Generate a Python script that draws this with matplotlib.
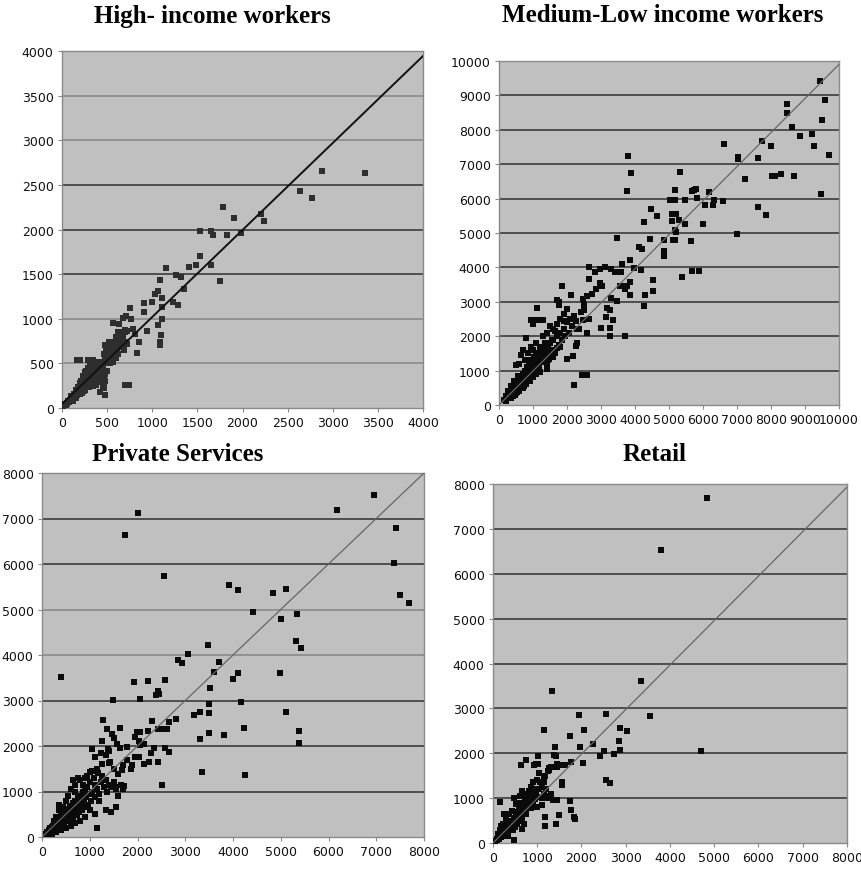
import matplotlib
matplotlib.use("Agg")
import matplotlib.pyplot as plt

# ---- High-income workers ----
high_x = [3362, 2886, 2642, 2775, 2203, 2236, 1779, 1908, 1827, 1985, 1528, 1650, 1675, 1528, 1653,
          1480, 1402, 1749, 1155, 1266, 1317, 1347, 1085, 1026, 1066, 1111, 1225, 1284, 1000, 911,
          911, 1103, 1107, 1059, 1096, 1089, 1089, 941, 849, 830, 753, 764, 672, 705, 561, 631, 790,
          808, 697, 716, 690, 701, 742, 170, 199, 421, 476, 458,
          15, 25, 35, 45, 55, 60, 70, 80, 90, 95, 105, 110, 120, 125, 135, 140, 150, 155, 165, 170,
          180, 185, 195, 200, 210, 215, 225, 230, 240, 245, 255, 260, 270, 275, 285, 290, 300, 305,
          315, 320, 330, 335, 345, 350, 360, 365, 375, 380, 390, 395, 405, 410, 420, 425, 440, 450,
          435, 260, 280, 300, 330, 250, 310, 350, 400, 230, 200, 180, 380, 420, 460, 470, 440, 160,
          130, 100, 340, 360, 270, 480, 500, 470, 120, 160, 200, 240, 280, 320, 360, 400,
          470, 490, 500, 520, 480, 520, 540, 560, 580, 600, 620, 640, 650, 660, 680, 700, 550, 570,
          590, 610, 500, 530, 560, 600, 520, 480, 640, 680, 540, 460, 500, 700, 720, 620, 580, 660,
          210, 230, 250, 270, 290, 310, 330, 350, 370, 390, 410, 430, 450, 460, 480, 380, 340, 300,
          260, 220, 390, 360, 330, 300, 270, 240, 320, 290, 420, 400,
          530, 560, 600, 620, 650, 580, 600, 640, 680, 620]
high_y = [2634, 2660, 2429, 2351, 2172, 2093, 2250, 2134, 1933, 1963, 1978, 1978, 1933, 1705, 1597,
          1597, 1578, 1422, 1567, 1485, 1463, 1336, 1429, 1276, 1313, 1231, 1183, 1149, 1183, 1175,
          1075, 1130, 1000, 925, 821, 739, 701, 858, 735, 619, 1119, 1000, 1011, 1030, 955, 944, 888,
          832, 851, 720, 646, 261, 261, 534, 534, 179, 142, 235,
          20, 30, 40, 35, 60, 50, 75, 70, 95, 80, 110, 95, 130, 110, 140, 120, 160, 140, 175, 150,
          190, 165, 205, 180, 220, 195, 240, 210, 255, 230, 270, 245, 290, 260, 300, 280, 320, 295,
          340, 310, 355, 325, 370, 340, 390, 355, 400, 370, 420, 380, 430, 395, 440, 410, 380, 400,
          460, 380, 420, 450, 480, 350, 520, 500, 470, 330, 280, 230, 300, 330, 270, 220, 290, 200,
          160, 130, 540, 480, 350, 380, 420, 350, 80, 110, 160, 190, 230, 270, 310, 340,
          600, 650, 690, 720, 560, 600, 650, 700, 690, 720, 750, 780, 820, 850, 800, 740, 560, 520,
          600, 640, 540, 500, 620, 560, 740, 710, 700, 680, 590, 500, 600, 870, 860, 600, 610, 760,
          300, 360, 400, 410, 450, 470, 430, 450, 470, 500, 480, 420, 440, 330, 300, 260, 250, 230,
          200, 170, 350, 420, 390, 380, 330, 300, 520, 540, 520, 520,
          650, 680, 650, 700, 720, 740, 800, 830, 850, 850]
high_fit_x = [0, 4000]
high_fit_y = [45, 3944]

# ---- Medium-Low income workers ----
med_x = [9451, 9579, 8482, 8482, 9510, 8629, 8864, 9216, 9265, 9706, 7738, 8002, 7042, 7042, 7620,
         6631, 7248, 8041, 8110, 8296, 8688, 7620, 7845, 9481, 7013, 6601, 6327, 6297, 6190, 6073,
         6004, 5808, 5730, 5828, 5671, 5485, 5338, 5171, 5191, 5465, 5024, 5093, 5220, 5093, 5299,
         5171, 5220, 5122, 5191, 4858, 4858, 4858, 5642, 5397, 5662, 5887, 4466, 4642, 4270, 4446,
         4103, 4201, 3457, 3780, 3878, 3761, 3849, 3976, 4172, 3604, 3594, 3408, 3301, 3105, 2968,
         2821, 2644, 3555, 3653, 3770, 3849, 3849, 3692, 4535, 4515, 4299, 4260, 3477, 3291, 3271,
         3271, 3271, 3340, 3144, 3163, 2997, 2958, 3017, 2840, 2733, 2576, 2654, 3692, 2586, 2654,
         2478, 2507, 2458, 2341, 2282, 2253, 2164, 2008, 2204, 2449, 2586, 1861, 1704, 1773, 2106,
         1117, 950, 1048, 1166, 1293, 1008,
         150, 200, 220, 250, 280, 300, 320, 350, 380, 400, 420, 450, 460, 480, 500, 520, 540, 550,
         570, 580, 600, 620, 640, 650, 670, 680, 700, 720, 740, 750, 770, 780, 800, 820, 830, 850,
         870, 880, 900, 920, 950, 960, 980, 1000, 1020, 1040, 1060, 1080, 1100, 1120, 1150, 1180,
         1200, 1220, 1250, 1280, 1300, 1320, 1350, 1380, 1400, 1420, 1450, 1480, 1500, 1550, 1600,
         1650, 1700, 1750, 1800, 1850, 1900, 1950, 2000, 2050, 2100, 2150, 2200, 2250, 1600, 1400,
         1200, 600, 750, 850, 950, 650, 500, 700, 800, 1300, 1350, 1100, 1500, 1600, 1700, 1800,
         1900, 2000, 1400, 1200, 900, 1000, 550, 450, 350, 250, 1750, 1900, 2300, 2400, 2500, 1650,
         1550, 1450, 1700, 1800,
         300, 350, 400, 450, 500, 550, 600, 650, 700, 750, 800, 850, 900, 950, 1000, 1050, 1100,
         1150, 1200, 1250, 600, 700, 800, 900, 1000, 1100, 400, 500, 350, 1300, 1350, 1400, 1450, 1500]
med_y = [9408, 8855, 8749, 8487, 8293, 8080, 7818, 7886, 7527, 7274, 7662, 7536, 7216, 7158, 7178,
         7585, 6576, 6663, 6663, 6702, 6663, 5742, 5529, 6120, 4976, 5937, 5946, 5820, 6188, 5800,
         5257, 6285, 6256, 6014, 6217, 5257, 6770, 6237, 5955, 5946, 5946, 5558, 5558, 5344, 5364,
         5073, 5024, 4782, 4782, 4811, 4471, 4345, 4762, 3715, 3909, 3909, 5703, 5499, 5315, 4830,
         4588, 4539, 4869, 7236, 6731, 6217, 4220, 3977, 3938, 4112, 3860, 3860, 3957, 4006, 3957,
         3880, 4006, 3472, 3472, 3472, 3569, 3210, 3375, 3637, 3327, 3210, 2890, 3036, 3113, 2755,
         2231, 1998, 2473, 2551, 2813, 2231, 3550, 3472, 3375, 3230, 3181, 3666, 1998, 2085, 2502,
         2473, 2774, 3084, 2211, 1804, 1727, 1435, 1338, 582, 873, 873, 3472, 3055, 3007, 3210,
         2813, 2483, 2483, 2483, 2483, 2357,
         150, 120, 250, 200, 300, 250, 380, 300, 420, 350, 500, 400, 300, 550, 450, 380, 600, 500,
         700, 450, 550, 800, 650, 520, 750, 600, 900, 700, 550, 850, 1000, 650, 800, 1100, 950, 700,
         1200, 900, 1050, 800, 1300, 1000, 1150, 900, 1400, 1100, 1250, 1000, 1500, 1200, 1350, 1100,
         1600, 1400, 1250, 1550, 1650, 1300, 1450, 1600, 1200, 1700, 1500, 1350, 1800, 1600, 1900,
         1500, 2000, 1750, 2100, 1900, 2200, 2000, 2400, 2100, 2500, 2300, 2600, 2450, 1400, 1050,
         950, 1200, 1300, 1500, 1700, 1450, 1150, 1600, 1950, 2000, 1800, 1800, 2300, 2200, 2350, 2500,
         2650, 2800, 2100, 1700, 1300, 1600, 850, 700, 550, 400, 2900, 2450, 2200, 2700, 2900, 2150,
         1900, 1300, 1650, 1700,
         400, 450, 500, 600, 650, 750, 700, 850, 800, 950, 1000, 1100, 1200, 1100, 1300, 1200, 1350,
         1450, 1300, 1500, 400, 500, 600, 700, 800, 900, 250, 350, 200, 1450, 1600, 1400, 1650, 1550]
med_fit_x = [0, 10000]
med_fit_y = [0, 9900]

# ---- Private Services ----
priv_x = [6953, 6172, 7406, 7371, 7497, 7685, 2008, 1729, 2545, 3912, 4100, 4847, 5112, 4414, 5349,
          5000, 5321, 5418, 3466, 3068, 2838, 2929, 3710, 3612, 4100, 4010, 4986, 3522, 3487, 4163,
          3501, 3306, 3180, 2810, 5105, 5390, 5390, 4233, 3487, 3312, 3821, 3347, 4261, 2566, 2218,
          1931, 2420, 2448, 2378, 2050, 1485, 390, 1276, 1360, 1639, 2294, 2657, 2608, 2497, 2427,
          2503, 1158, 1987, 2050, 1952, 2218, 2029, 2127, 2043, 2350, 2573, 2664, 2280, 2022, 1952,
          2141, 2246, 2420, 1464, 1499, 1569, 1381, 1227, 1053, 1408, 1694, 1778, 1681, 1722, 1534,
          1597, 1890, 1862, 1625, 1778, 1555,
          80, 100, 120, 140, 150, 170, 180, 200, 210, 230, 240, 250, 260, 280, 290, 300, 310, 320,
          340, 350, 360, 380, 390, 400, 420, 430, 450, 460, 480, 490, 500, 510, 530, 540, 560, 570,
          590, 600, 620, 640, 650, 660, 680, 700, 710, 730, 750, 760, 780, 800, 820, 840, 860, 870,
          890, 900, 920, 950, 960, 980, 1000, 1020, 1050, 1080, 1100, 1120, 1150, 1180, 1200, 1230,
          1260, 1300, 1330, 1360, 1400, 1450, 1500, 1550, 1650, 1700, 600, 650, 700, 750, 550, 500,
          450, 400, 350, 300, 250, 950, 1000, 1050, 1150, 1250, 1100, 1250, 1350, 850, 900, 800, 700,
          1350, 1200, 1100, 1000, 900, 800, 700, 600, 500, 400, 300, 200, 1450, 1600, 1500, 350, 360,
          1420, 1400]
priv_y = [7526, 7196, 6786, 6025, 5329, 5139, 7123, 6640, 5747, 5549, 5439, 5366, 5447, 4956, 4898,
          4802, 4297, 4151, 4209, 4019, 3895, 3829, 3843, 3624, 3609, 3463, 3594, 3280, 2928, 2958,
          2723, 2738, 2687, 2599, 2745, 2328, 2057, 2394, 2291, 2152, 2233, 1428, 1369, 3455, 3426,
          3404, 3207, 3148, 3126, 3023, 3016, 3507, 2562, 2365, 2394, 2548, 2518, 2372, 2372, 2379,
          1135, 198, 2306, 2306, 2196, 2335, 2108, 2050, 2020, 1955, 1955, 1867, 1838, 1757, 1750,
          1603, 1654, 1647, 2269, 2174, 2050, 1933, 1852, 1925, 1625, 1589, 1684, 1464, 1127, 1098,
          1391, 1589, 1501, 1962, 1977, 659,
          60, 100, 80, 150, 120, 190, 140, 220, 160, 250, 180, 300, 210, 330, 240, 200, 360, 280,
          400, 260, 320, 450, 300, 380, 500, 350, 420, 280, 560, 400, 470, 350, 620, 450, 520, 380,
          680, 500, 580, 420, 750, 600, 520, 800, 650, 480, 850, 700, 560, 900, 750, 600, 1000, 800,
          650, 1050, 880, 1100, 700, 950, 1200, 800, 1000, 1300, 880, 1150, 1050, 1400, 950, 1200,
          1350, 1100, 1250, 1000, 1150, 1100, 1200, 1050, 1150, 1050, 1050, 1250, 1150, 1300, 900, 800,
          650, 550, 700, 450, 350, 1350, 1420, 1450, 1500, 1600, 1750, 2100, 1800, 1150, 1300, 1250, 1000,
          600, 800, 500, 600, 450, 350, 300, 250, 200, 150, 120, 70, 550, 900, 1500, 650, 600,
          1650, 1900]
priv_fit_x = [0, 8000]
priv_fit_y = [0, 8000]

# ---- Retail ----
ret_x = [4844, 3789, 3352, 3556, 4693, 2561, 1943, 1333, 1145, 2056, 2862, 3028, 2840, 2862, 2742,
         2501, 2411, 2260, 1733, 1966, 2041, 1770, 1394, 1386, 1424, 1446, 1446, 1582, 1620, 1258,
         1273, 1017, 746, 633, 927, 964, 1024, 2554, 2652, 1567, 1567, 1183, 1145, 1070, 158, 1748,
         1763, 1838, 1846, 1431, 1484, 1424, 1175, 1183, 482, 663, 241,
         50, 80, 100, 120, 140, 160, 180, 200, 210, 230, 240, 260, 270, 290, 300, 310, 330, 340, 350,
         370, 380, 400, 410, 420, 440, 450, 470, 480, 490, 510, 520, 540, 550, 570, 580, 600, 610,
         630, 650, 660, 680, 700, 720, 740, 760, 780, 800, 820, 840, 860, 880, 900, 920, 950, 980,
         1000, 1050, 1100, 1150, 1200, 1250, 1300, 1350, 1450, 650, 700, 750, 600, 480, 520, 580,
         620, 820, 870, 900, 950, 1000, 1100, 1150, 1200, 1250, 1300, 1050, 430, 360, 300, 220, 180,
         150, 110, 250, 350, 450, 550, 650, 750, 850, 700, 1000, 1100]
ret_y = [7688, 6531, 3599, 2827, 2041, 2879, 2857, 3384, 2508, 2508, 2568, 2486, 2271, 2063, 1974,
         2041, 1937, 2211, 2375, 2137, 1788, 1803, 2137, 1967, 1937, 1751, 1692, 1744, 1744, 1670,
         1633, 1937, 1855, 1729, 1729, 1766, 1766, 1395, 1336, 1358, 1284, 1484, 1358, 1358, 913, 928,
         727, 579, 527, 950, 616, 430, 371, 579, 59, 319, 653,
         40, 90, 60, 130, 100, 180, 140, 230, 170, 260, 200, 300, 220, 340, 260, 180, 380, 300, 220,
         420, 340, 450, 370, 280, 500, 400, 560, 440, 350, 600, 480, 650, 540, 700, 600, 750, 500,
         680, 800, 600, 720, 850, 950, 780, 1000, 900, 1050, 850, 950, 1100, 1000, 900, 1050, 980, 1100,
         1020, 1200, 1000, 1100, 1050, 1000, 1100, 950, 950, 1150, 1100, 1000, 1050, 1000, 880, 800,
         900, 1150, 1250, 1350, 1200, 1400, 1250, 1450, 1200, 1600, 1700, 1550, 720, 650, 560, 420, 380,
         280, 200, 150, 160, 300, 420, 520, 640, 780, 420, 800, 850]
ret_fit_x = [0, 8000]
ret_fit_y = [0, 7930]

W, H = 861, 870
fig = plt.figure(figsize=(W / 100, H / 100), dpi=100)

DARK = "#464646"
LIGHT = "#8e8e8e"


def make_panel(px_box, xmax, ymax, step_x, step_y, xs, ys, fx, fy,
               pt_color, pt_size, line_color, line_w, grid_colors):
    left, top, right, bottom = px_box
    ax = fig.add_axes([left / W, 1 - bottom / H, (right - left) / W, (bottom - top) / H])
    ax.set_facecolor("#c0c0c0")
    ax.set_xlim(0, xmax)
    ax.set_ylim(0, ymax)
    yt = list(range(0, ymax + 1, step_y))
    ax.set_xticks(list(range(0, xmax + 1, step_x)))
    ax.set_yticks(yt)
    for v, c in zip(yt[1:-1], grid_colors):
        ax.axhline(v, color=c, lw=1.3, zorder=1)
    ax.scatter(xs, ys, marker="s", s=pt_size, color=pt_color, linewidths=0, zorder=3)
    ax.plot(fx, fy, color=line_color, lw=line_w, zorder=4)
    for sp in ax.spines.values():
        sp.set_color("#8a8a8a")
        sp.set_linewidth(1.0)
    ax.tick_params(direction="out", length=3, width=0.8, color="#8a8a8a",
                   labelsize=9, labelcolor="#111111", pad=3)
    return ax


make_panel((62, 52, 423, 409), 4000, 4000, 500, 500, high_x, high_y, high_fit_x, high_fit_y,
           "#2e2e2e", 17, "#111111", 1.4, [LIGHT, LIGHT, DARK, DARK, DARK, LIGHT, LIGHT])
make_panel((499, 62, 839, 406), 10000, 10000, 1000, 1000, med_x, med_y, med_fit_x, med_fit_y,
           "#0a0a0a", 13, "#666666", 0.9, [DARK] * 9)
make_panel((42, 474, 424, 838), 8000, 8000, 1000, 1000, priv_x, priv_y, priv_fit_x, priv_fit_y,
           "#0a0a0a", 13, "#666666", 0.9, [DARK, DARK, DARK, LIGHT, LIGHT, DARK, DARK])
make_panel((493, 485, 847, 844), 8000, 8000, 1000, 1000, ret_x, ret_y, ret_fit_x, ret_fit_y,
           "#0a0a0a", 13, "#666666", 0.9, [DARK] * 7)

tfont = dict(family="Liberation Serif", weight="bold", size=18, ha="center", va="center")
fig.text(212 / W, 1 - 16 / H, "High- income workers", **tfont)
fig.text(663 / W, 1 - 16 / H, "Medium-Low income workers", **tfont)
fig.text(178 / W, 1 - 455 / H, "Private Services", **tfont)
fig.text(655 / W, 1 - 455 / H, "Retail", **tfont)

fig.savefig("out.png", dpi=100)
